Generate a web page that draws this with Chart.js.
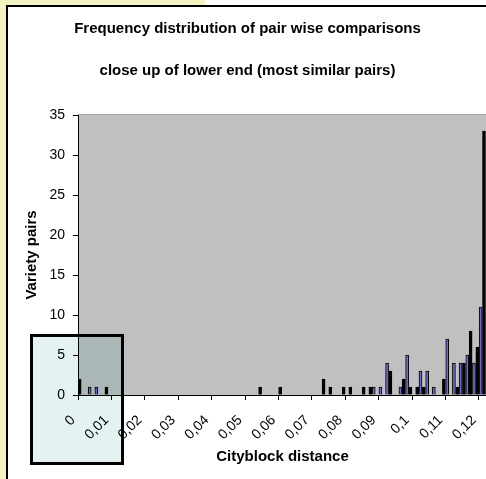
<!DOCTYPE html>
<html>
<head>
<meta charset="utf-8">
<script src="https://cdn.jsdelivr.net/npm/chart.js@4.4.0/dist/chart.umd.min.js"></script>
<style>
  html, body { margin: 0; padding: 0; background: #fff; overflow: hidden; }
  body { width: 486px; height: 479px; position: relative; }
  .paper { position: absolute; background: #f3f2c2; }
  #frame { position: absolute; left: 6px; top: 5px; width: 600px; height: 600px;
           border-left: 2px solid #000; border-top: 2px solid #000; background: #fff; }
  #wrap { position: absolute; left: 8px; top: 7px; width: 490px; height: 472px; }
</style>
</head>
<body>
<div class="paper" style="left:0;top:0;width:6px;height:479px"></div>
<div class="paper" style="left:0;top:0;width:205px;height:5px"></div>
<div id="frame"></div>
<div id="wrap"><canvas id="chart"></canvas></div>
<script>
// bin centres (cityblock distance, bins of 0.001) and number of variety pairs
const distance = [0.0005, 0.0035, 0.0055, 0.0085,
  0.0545, 0.0605,
  0.0735, 0.0755, 0.0795, 0.0815, 0.0855, 0.0875,
  0.0885, 0.0905, 0.0925, 0.0935,
  0.0965, 0.0975, 0.0985, 0.0995,
  0.1015, 0.1025, 0.1035, 0.1045,
  0.1065,
  0.1095, 0.1105,
  0.1125, 0.1135, 0.1145, 0.1155, 0.1165, 0.1175, 0.1185, 0.1195, 0.1205, 0.1215];
const pairs = [2, 1, 1, 1,
  1, 1,
  2, 1, 1, 1, 1, 1,
  1, 1, 4, 3,
  1, 2, 5, 1,
  1, 3, 1, 3,
  1,
  2, 7,
  4, 1, 4, 4, 5, 8, 4, 6, 11, 33];

const FONT = "'Liberation Sans', Arial, sans-serif";

// the original thin bars were pixel-snapped: some kept their blue fill, others came out all black
function barFill(ctx) {
  const bin = Math.round(ctx.raw.x * 1000 - 0.5);
  const phase = (bin * 0.505) % 1;
  return phase >= 0.4 && phase < 0.65 ? '#6c6cc4' : '#000';
}

const plotBg = {
  id: 'plotBg',
  beforeDraw(chart) {
    const { ctx, chartArea: a } = chart;
    ctx.save();
    ctx.fillStyle = '#c0c0c0';
    ctx.fillRect(a.left, a.top, a.right - a.left, a.bottom - a.top);
    ctx.strokeStyle = '#a4a4a4';
    ctx.lineWidth = 1;
    ctx.beginPath();
    ctx.moveTo(a.left, a.top - 0.5);
    ctx.lineTo(a.right, a.top - 0.5);
    ctx.stroke();
    ctx.restore();
  },
  afterDraw(chart) {
    // highlight box drawn over the lower-left corner
    const ctx = chart.ctx;
    ctx.save();
    ctx.globalCompositeOperation = 'multiply';
    ctx.fillStyle = '#e4f2f2';
    ctx.fillRect(23, 328, 92, 130);
    ctx.globalCompositeOperation = 'source-over';
    ctx.strokeStyle = '#000';
    ctx.lineWidth = 3;
    ctx.strokeRect(23.5, 328.5, 91, 128);
    ctx.restore();
  }
};

new Chart(document.getElementById('chart'), {
  type: 'bar',
  data: {
    datasets: [{
      data: distance.map((d, i) => ({ x: d, y: pairs[i] })),
      backgroundColor: barFill,
      borderColor: '#000',
      borderWidth: 1,
      borderSkipped: 'bottom',
      barThickness: 3
    }]
  },
  options: {
    responsive: true,
    maintainAspectRatio: false,
    animation: false,
    layout: { padding: { left: 0, right: 11, top: 0, bottom: 0 } },
    plugins: {
      legend: { display: false },
      tooltip: { enabled: false },
      title: {
        display: true,
        text: 'Frequency distribution of pair wise comparisons',
        color: '#000',
        font: { family: FONT, size: 15, weight: 'bold' },
        padding: { top: 13, bottom: 0 }
      },
      subtitle: {
        display: true,
        text: 'close up of lower end (most similar pairs)',
        color: '#000',
        font: { family: FONT, size: 15, weight: 'bold' },
        padding: { top: 24, bottom: 35 }
      }
    },
    scales: {
      x: {
        type: 'linear',
        min: 0,
        max: 0.1224,
        offset: false,
        grid: { offset: false, drawOnChartArea: false, color: '#000', tickLength: 5 },
        border: { color: '#000', width: 1 },
        ticks: {
          stepSize: 0.01,
          includeBounds: false,
          autoSkip: false,
          minRotation: 45,
          maxRotation: 45,
          padding: 12,
          labelOffset: -5,
          color: '#000',
          font: { family: FONT, size: 14 },
          callback: v => String(Math.round(v * 100) / 100).replace('.', ',')
        },
        title: {
          display: true,
          text: 'Cityblock distance',
          color: '#000',
          font: { family: FONT, size: 15, weight: 'bold' },
          padding: { top: 0, bottom: 13 }
        },
        afterFit: s => { s.height = 84; s.paddingLeft = 0; s.paddingRight = 0; }
      },
      y: {
        min: 0,
        max: 35,
        grid: { drawOnChartArea: false, color: '#000', tickLength: 5 },
        border: { color: '#000', width: 1 },
        ticks: {
          stepSize: 5,
          padding: 8,
          color: '#000',
          font: { family: FONT, size: 14 }
        },
        title: {
          display: true,
          text: 'Variety pairs',
          color: '#000',
          font: { family: FONT, size: 15, weight: 'bold' },
          padding: { top: 15, bottom: 0 }
        },
        afterFit: s => { s.width = 70; }
      }
    }
  },
  plugins: [plotBg]
});
</script>
</body>
</html>
